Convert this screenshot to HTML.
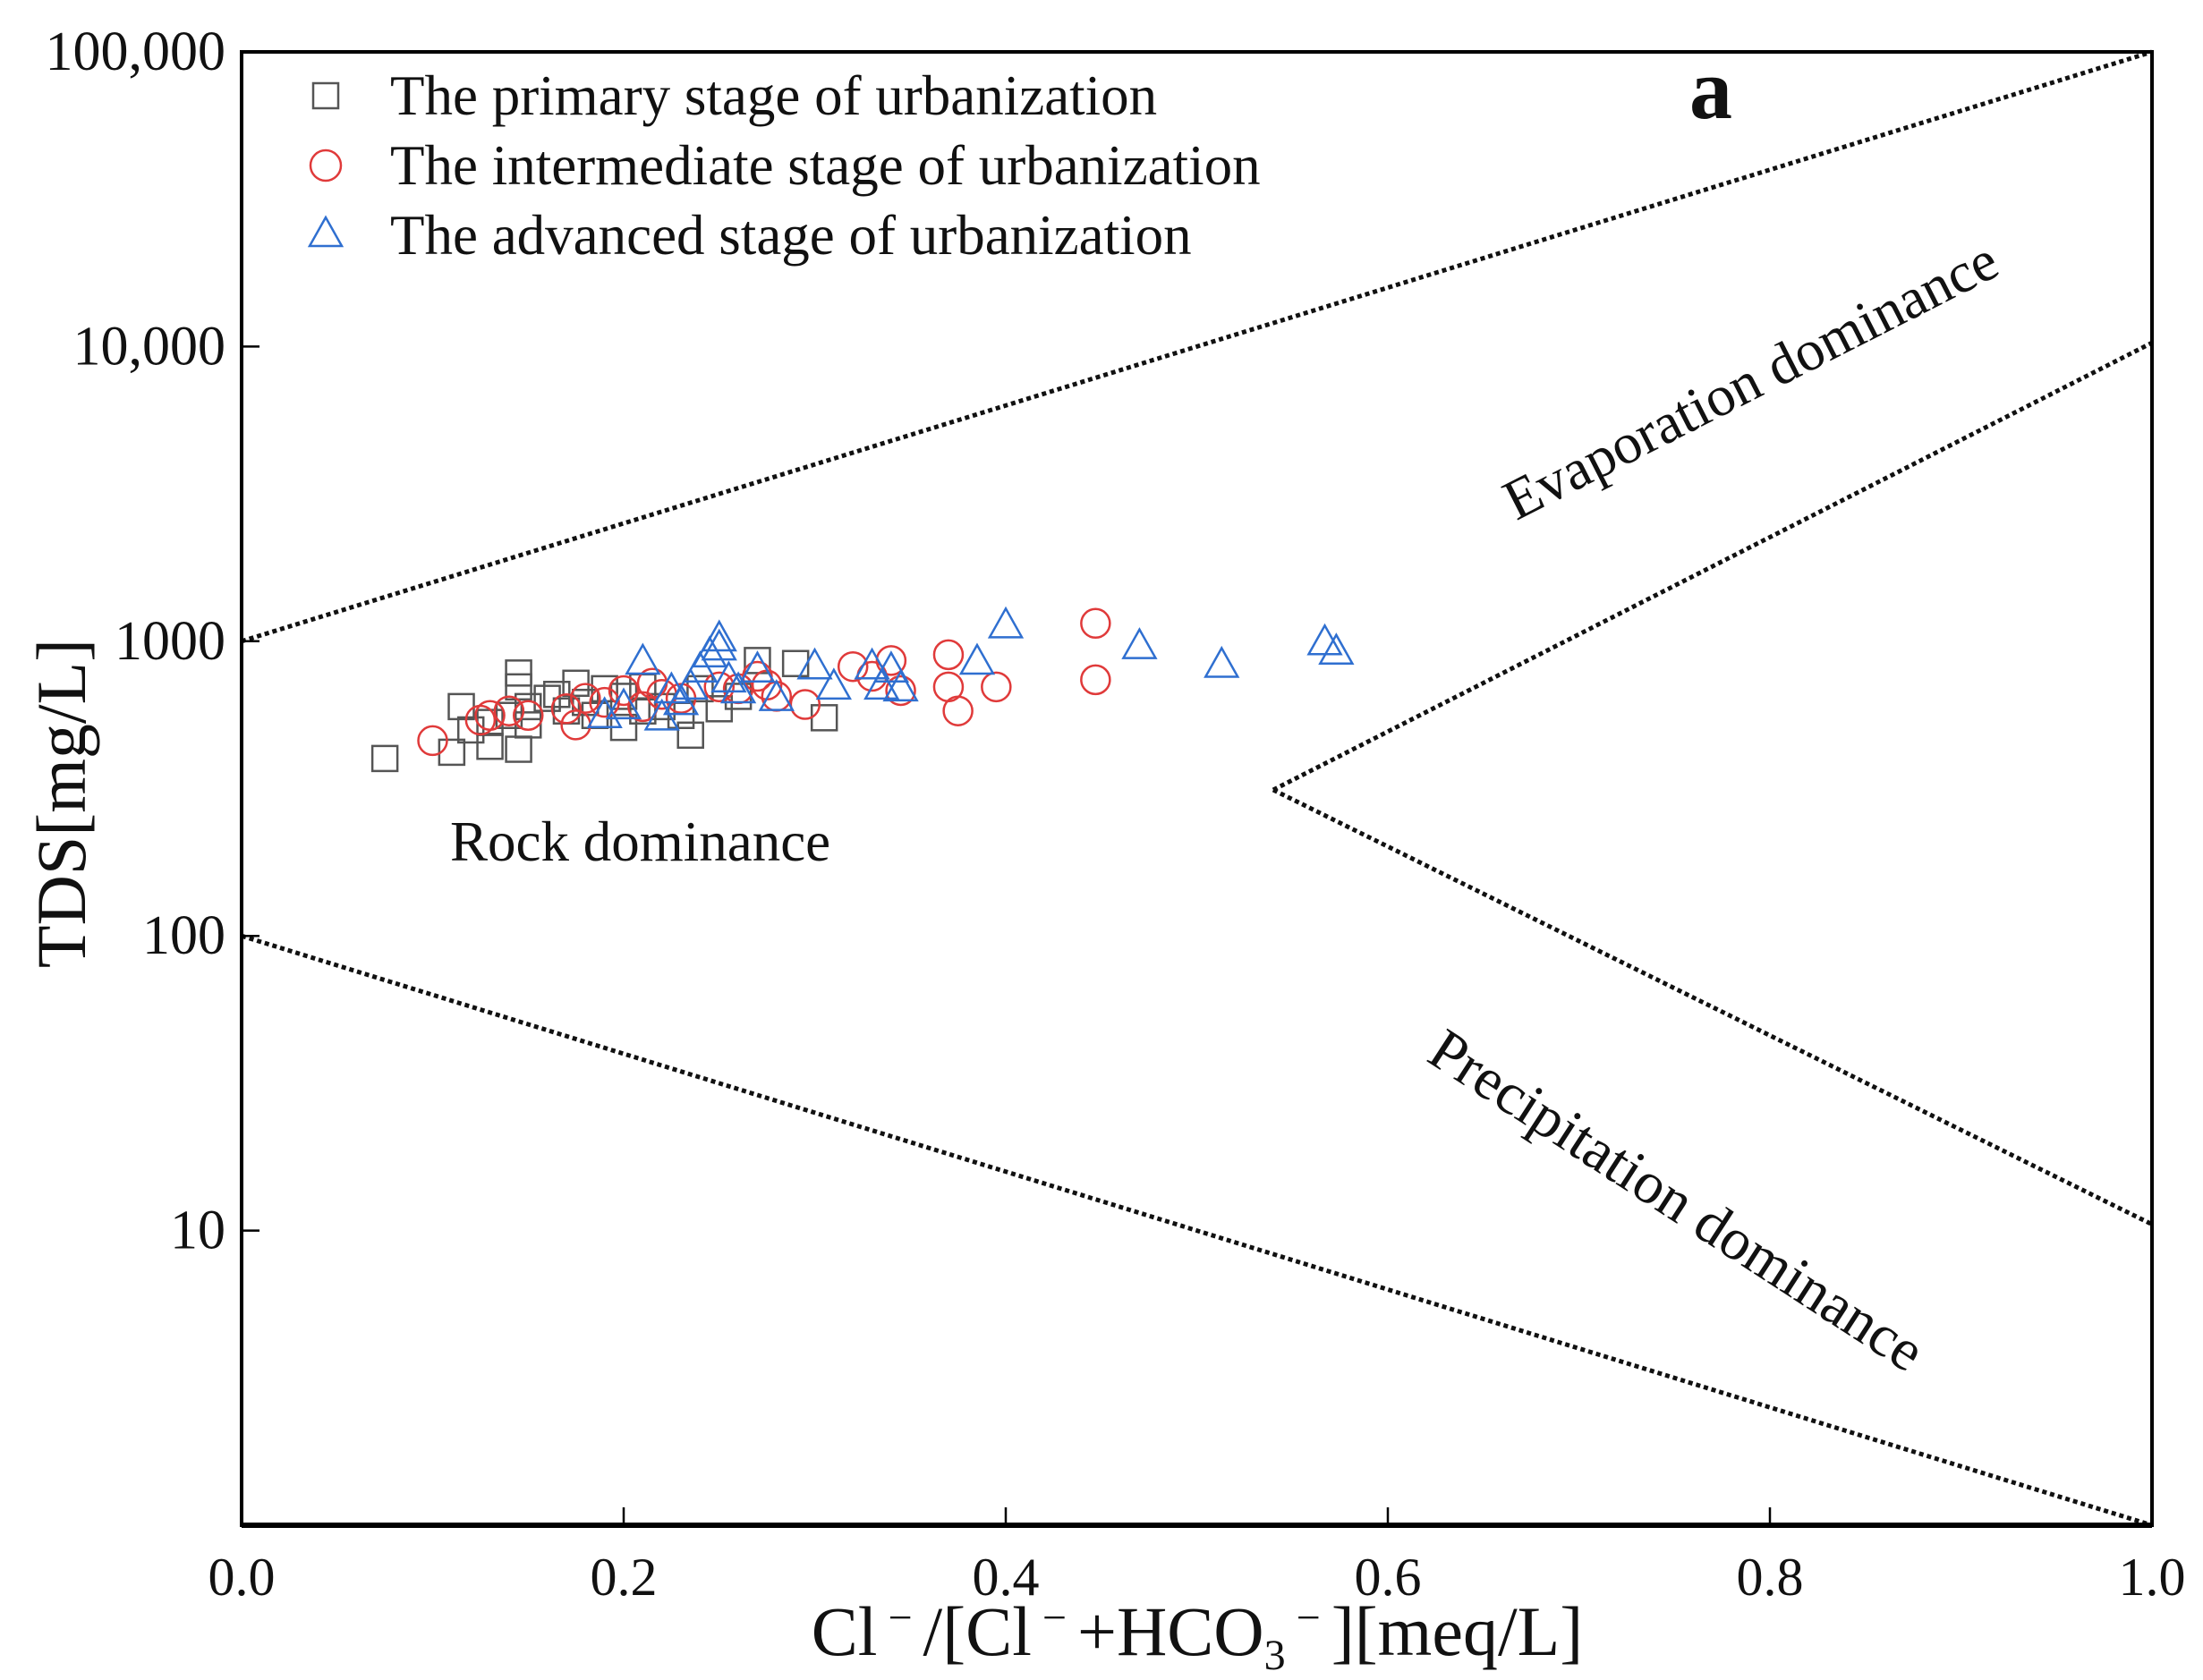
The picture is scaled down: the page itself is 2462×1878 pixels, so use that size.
<!DOCTYPE html>
<html><head><meta charset="utf-8"><style>
html,body{margin:0;padding:0;background:#fff}
svg{display:block}
text{font-family:"Liberation Serif",serif;fill:#111}
</style></head><body>
<svg id="chart" width="2462" height="1878" viewBox="0 0 2462 1878" xmlns="http://www.w3.org/2000/svg"></svg>
<script>
const xTicks=[0,0.2,0.4,0.6,0.8,1.0];
const xTickLabels=["0.0","0.2","0.4","0.6","0.8","1.0"];
const yTicks=[10,100,1000,10000,100000];
const yTickLabels=["10","100","1000","10,000","100,000"];
const primaryX=[0.075,0.11,0.115,0.12,0.13,0.14,0.145,0.145,0.145,0.15,0.15,0.16,0.17,0.175,0.18,0.19,0.2,0.2,0.21,0.22,0.23,0.235,0.24,0.25,0.27,0.29,0.305,0.21,0.26,0.13,0.165,0.185];
const primaryY=[400,420,600,500,440,560,780,700,430,520,600,640,580,720,620,690,510,650,700,600,560,480,690,590,860,840,550,580,650,530,660,560];
const interX=[0.1,0.125,0.13,0.14,0.15,0.17,0.175,0.18,0.19,0.2,0.21,0.22,0.23,0.25,0.26,0.275,0.28,0.295,0.32,0.33,0.34,0.345,0.37,0.37,0.375,0.395,0.447,0.447,0.27,0.215];
const interY=[460,540,560,580,560,590,520,640,620,680,600,660,640,700,690,710,650,610,820,760,860,680,900,700,580,700,1150,740,760,720];
const advX=[0.19,0.2,0.21,0.22,0.23,0.24,0.245,0.25,0.25,0.255,0.26,0.27,0.28,0.3,0.31,0.33,0.335,0.34,0.345,0.385,0.4,0.47,0.513,0.567,0.573,0.225,0.235];
const advY=[560,600,850,550,620,800,900,1020,950,740,680,800,640,820,700,820,700,800,690,850,1130,960,830,990,920,680,700];
const upperLine=[[0,1000],[1,100000]];
const lowerLine=[[0,100],[1,1]];
const evapLine=[[0.54,313],[1,10300]];
const precLine=[[0.54,313],[1,10.5]];

const NS="http://www.w3.org/2000/svg";
const svg=document.getElementById('chart');
const L=270,R=2405,T=58,B=1705;
const xs=v=>L+v*(R-L);
const ys=v=>B-(Math.log10(v))/5*(B-T);
function el(tag,attrs,parent){const e=document.createElementNS(NS,tag);for(const k in attrs)e.setAttribute(k,attrs[k]);(parent||svg).appendChild(e);return e;}

[[upperLine,'upper-boundary-line'],[lowerLine,'lower-boundary-line'],[evapLine,'evaporation-boundary-line'],[precLine,'precipitation-boundary-line']].forEach(([ln,nm])=>{
  const e=el('line',{x1:xs(ln[0][0]),y1:ys(ln[0][1]),x2:xs(ln[1][0]),y2:ys(ln[1][1]),stroke:'#111','stroke-width':5,'stroke-dasharray':'5 4'});
  
  
});

const g1=el('g',{fill:'none',stroke:'#555','stroke-width':2.5});


primaryX.forEach((x,i)=>{const e=el('rect',{x:xs(x)-14,y:ys(primaryY[i])-14,width:28,height:28},g1);
  
  });
const g2=el('g',{fill:'none',stroke:'#e03a3a','stroke-width':2.5});


interX.forEach((x,i)=>{const e=el('circle',{cx:xs(x),cy:ys(interY[i]),r:16},g2);
  
  });
const g3=el('g',{fill:'none',stroke:'#2f6fd0','stroke-width':2.5});


advX.forEach((x,i)=>{const cx=xs(x),cy=ys(advY[i]);const e=el('polygon',{points:`${cx},${cy-19} ${cx-18},${cy+13} ${cx+18},${cy+13}`},g3);
  
  });

const fr=el('rect',{x:L,y:T,width:R-L,height:B-T,fill:'none',stroke:'#000','stroke-width':4});


el('line',{x1:L,y1:B,x2:R,y2:B,stroke:'#000','stroke-width':6});

xTicks.forEach((v,i)=>{
  el('line',{x1:xs(v),y1:B,x2:xs(v),y2:B-20,stroke:'#000','stroke-width':2.5});
  const t=el('text',{x:xs(v),y:B+78,'font-size':60,'text-anchor':'middle'});t.textContent=xTickLabels[i];
  
  
});
yTicks.forEach((v,i)=>{
  el('line',{x1:L,y1:ys(v),x2:L+20,y2:ys(v),stroke:'#000','stroke-width':2.5});
  const t=el('text',{x:L-18,y:ys(v)+20,'font-size':62,'text-anchor':'end'});t.textContent=yTickLabels[i];
  
  
});
</script>
<svg style="position:absolute;left:0;top:0" width="2462" height="1878" viewBox="0 0 2462 1878" xmlns="http://www.w3.org/2000/svg">
<text transform="translate(95,898) rotate(-90)" font-size="78" text-anchor="middle">TDS[mg/L]</text>
<text x="1338" y="1850" font-size="78" text-anchor="middle">Cl<tspan dy="-26" font-size="48"> − </tspan><tspan dy="26">/[Cl</tspan><tspan dy="-26" font-size="48"> − </tspan><tspan dy="26">+HCO</tspan><tspan dy="16" font-size="48">3</tspan><tspan dy="-42" font-size="48"> − </tspan><tspan dy="26">][meq/L]</tspan></text>
<text x="1912" y="132" font-size="96" font-weight="bold" text-anchor="middle">a</text>
<text transform="translate(1966,444) rotate(-27)" font-size="64" text-anchor="middle">Evaporation dominance</text>
<text transform="translate(1862,1360) rotate(33)" font-size="66" text-anchor="middle">Precipitation dominance</text>
<text x="503" y="962" font-size="63">Rock dominance</text>
<g>
<rect x="350" y="93" width="28" height="28" fill="none" stroke="#555" stroke-width="2.5"/>
<text x="436" y="128" font-size="63">The primary stage of urbanization</text>
<circle cx="364" cy="185" r="17" fill="none" stroke="#e03a3a" stroke-width="2.5"/>
<text x="436" y="206" font-size="63">The intermediate stage of urbanization</text>
<polygon points="364,243 346,275 382,275" fill="none" stroke="#2f6fd0" stroke-width="2.5"/>
<text x="436" y="284" font-size="63">The advanced stage of urbanization</text>
</g>
</svg>
</body></html>
